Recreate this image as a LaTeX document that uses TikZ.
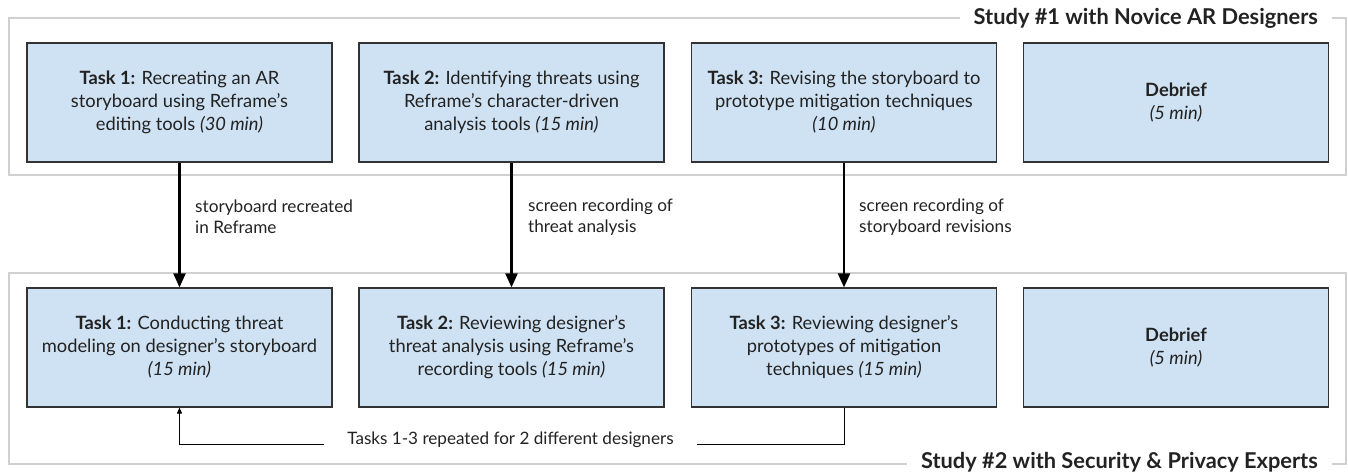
\documentclass[tikz,border=0pt]{standalone}
\usepackage{fontspec}
\setmainfont{Lato}
\usetikzlibrary{arrows.meta}
\definecolor{boxfill}{HTML}{CFE2F3}
\definecolor{boxline}{HTML}{333333}
\definecolor{framegray}{HTML}{D0D0D0}
\definecolor{txt}{HTML}{222222}
\begin{document}
\begin{tikzpicture}[x=1pt,y=-1pt,
  task/.style={draw=boxline, line width=1.2pt, fill=boxfill, minimum width=305pt,
    minimum height=119pt, align=center, inner sep=0pt, text=txt,
    font=\fontsize{18.3}{23}\selectfont},
  framebox/.style={draw=framegray, line width=1.3pt},
  studytitle/.style={fill=white, inner xsep=14pt, inner ysep=2pt, text=txt,
    font=\bfseries\fontsize{21.8}{24}\selectfont},
  flow/.style={draw=black, line width=2.4pt, -{Triangle[length=14pt,width=12pt]}},
  lab/.style={align=left, inner sep=0pt, text=txt, font=\fontsize{17.2}{21}\selectfont},
  loop/.style={draw=black, line width=1pt},
  rep/.style={inner xsep=23pt, inner ysep=0pt, text=txt, font=\fontsize{17.1}{21}\selectfont}
]
\useasboundingbox (0,0) rectangle (1348,473);

% frames
\draw[framebox] (9,18) rectangle (1346,175);
\draw[framebox] (9,273) rectangle (1346,464);
\node[studytitle, anchor=east] (st1) at (1332,18) {Study \#1 with Novice AR Designers};
\node[studytitle, anchor=east] (st2) at (1332,462) {Study \#2 with Security \& Privacy Experts};

% top row
\node[task] (t1) at (179.5,102.5) {\textbf{Task 1:} Recreating an AR\\storyboard using Reframe's\\editing tools \textit{(30 min)}};
\node[task] (t2) at (511.5,102.5) {\textbf{Task 2:} Identifying threats using\\Reframe's character-driven\\analysis tools \textit{(15 min)}};
\node[task] (t3) at (844,102.5) {\textbf{Task 3:} Revising the storyboard to\\prototype mitigation techniques\\\textit{(10 min)}};
\node[task] (t4) at (1176,102.5) {\textbf{Debrief}\\\textit{(5 min)}};

% bottom row
\node[task] (s1) at (179.5,347.5) {\textbf{Task 1:} Conducting threat\\modeling on designer's storyboard\\\textit{(15 min)}};
\node[task] (s2) at (511.5,347.5) {\textbf{Task 2:} Reviewing designer's\\threat analysis using Reframe's\\recording tools \textit{(15 min)}};
\node[task] (s3) at (844,347.5) {\textbf{Task 3:} Reviewing designer's\\prototypes of mitigation\\techniques \textit{(15 min)}};
\node[task] (s4) at (1176,347.5) {\textbf{Debrief}\\\textit{(5 min)}};

% flow arrows
\draw[flow] (t1.south) -- (s1.north);
\draw[flow] (t2.south) -- (s2.north);
\draw[flow] (t3.south) -- (s3.north);

\node[lab, anchor=west] (l1) at (195,217) {storyboard recreated\\in Reframe};
\node[lab, anchor=west] (l2) at (528,217) {screen recording of\\threat analysis};
\node[lab, anchor=west] (l3) at (859,217) {screen recording of\\storyboard revisions};

% repeat loop
\node[rep, anchor=base] (r) at (510.5,444) {Tasks 1-3 repeated for 2 different designers};
\draw[loop] (s3.south) |- (r.base east);
\draw[loop, -{Triangle[length=6pt,width=5pt]}] (r.base west) -| (s1.south);
\end{tikzpicture}
\end{document}
